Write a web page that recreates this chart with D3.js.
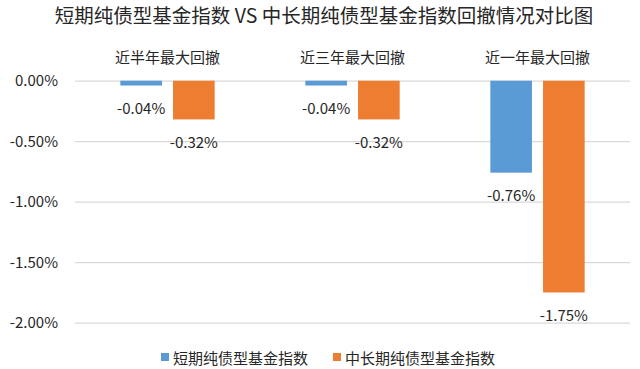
<!DOCTYPE html>
<html>
<head>
<meta charset="utf-8">
<script src="https://cdn.jsdelivr.net/npm/d3@7"></script>
<style>
  body { margin: 0; background: #fff; }
  text { font-family: "Noto Sans CJK SC", "Noto Sans", sans-serif; fill: #262626; }
</style>
</head>
<body>
<div id="chart"></div>
<script>
var title = "短期纯债型基金指数 VS 中长期纯债型基金指数回撤情况对比图"
var categories = ["近半年最大回撤", "近三年最大回撤", "近一年最大回撤"]
var seriesNames = ["短期纯债型基金指数", "中长期纯债型基金指数"]
var shortTerm = [-0.04, -0.04, -0.76]
var longTerm = [-0.32, -0.32, -1.75]
var yTicks = [0, -0.5, -1, -1.5, -2]
var colors = ["#5b9bd5", "#ed7d31"]

var width = 640, height = 369
var plot = {left: 75, right: 630, top: 80.7, bottom: 322.7}

// plain hyphen instead of d3's unicode minus
var fmt = d3.formatLocale({decimal: ".", thousands: ",", grouping: [3], currency: ["", ""], minus: "-"}).format(".2f")
function pct(d) { return fmt(d) + "%" }

var svg = d3.select("#chart").append("svg")
    .attr("width", width)
    .attr("height", height)

var x = d3.scaleBand()
    .domain(categories)
    .range([plot.left, plot.right])

var x1 = d3.scaleBand()
    .domain(seriesNames)
    .range([0, x.bandwidth()])
    .paddingInner(0.21)
    .paddingOuter(0.86)

var y = d3.scaleLinear()
    .domain([0, -2])
    .range([plot.top, plot.bottom])

// grid + tick labels
var yAxis = svg.append("g")
    .attr("transform", "translate(" + plot.left + ",0)")
    .call(d3.axisLeft(y)
      .tickValues(yTicks)
      .tickSize(-(plot.right - plot.left))
      .tickPadding(17)
      .tickFormat(pct))
yAxis.select(".domain").remove()
yAxis.selectAll("line").attr("stroke", "#d9d9d9").attr("stroke-width", 1.2)
yAxis.selectAll("text").style("font-size", "15px").attr("fill", "#262626")
  .style("font-family", "'Noto Sans CJK SC', 'Noto Sans', sans-serif")

var rows = categories.map(function(c, i) {
  return {cat: c, values: [shortTerm[i], longTerm[i]]}
})

var groups = svg.selectAll(".group")
    .data(rows)
  .enter().append("g")
    .attr("class", "group")
    .attr("transform", function(d) { return "translate(" + x(d.cat) + ",0)" })

groups.selectAll("rect")
    .data(function(d) { return d.values.map(function(v, j) { return {s: seriesNames[j], v: v, j: j} }) })
  .enter().append("rect")
    .attr("x", function(d) { return x1(d.s) })
    .attr("y", y(0))
    .attr("width", x1.bandwidth())
    .attr("height", function(d) { return y(d.v) - y(0) })
    .attr("fill", function(d) { return colors[d.j] })

groups.selectAll(".val")
    .data(function(d) { return d.values.map(function(v, j) { return {s: seriesNames[j], v: v} }) })
  .enter().append("text")
    .attr("class", "val")
    .attr("x", function(d) { return x1(d.s) + x1.bandwidth() / 2 })
    .attr("y", function(d) { return y(d.v) + 22 })
    .attr("text-anchor", "middle")
    .attr("dominant-baseline", "central")
    .style("font-size", "15px")
    .text(function(d) { return pct(d.v) })

// category labels on top
svg.selectAll(".cat")
    .data(categories)
  .enter().append("text")
    .attr("class", "cat")
    .attr("x", function(d) { return x(d) + x.bandwidth() / 2 })
    .attr("y", 56)
    .attr("text-anchor", "middle")
    .attr("dominant-baseline", "central")
    .style("font-size", "15px")
    .text(function(d) { return d })

// title
svg.append("text")
    .attr("x", 324)
    .attr("y", 14)
    .attr("text-anchor", "middle")
    .attr("dominant-baseline", "central")
    .style("font-size", "19.5px")
    .text(title)

// legend
var legendX = [161, 333]
var legend = svg.selectAll(".legend")
    .data(seriesNames)
  .enter().append("g")
    .attr("class", "legend")
    .attr("transform", function(d, i) { return "translate(" + legendX[i] + ",357)" })
legend.append("rect")
    .attr("x", 0).attr("y", -4)
    .attr("width", 8).attr("height", 8)
    .attr("fill", function(d, i) { return colors[i] })
legend.append("text")
    .attr("x", 12)
    .attr("dominant-baseline", "central")
    .style("font-size", "15px")
    .text(function(d) { return d })
</script>
</body>
</html>
